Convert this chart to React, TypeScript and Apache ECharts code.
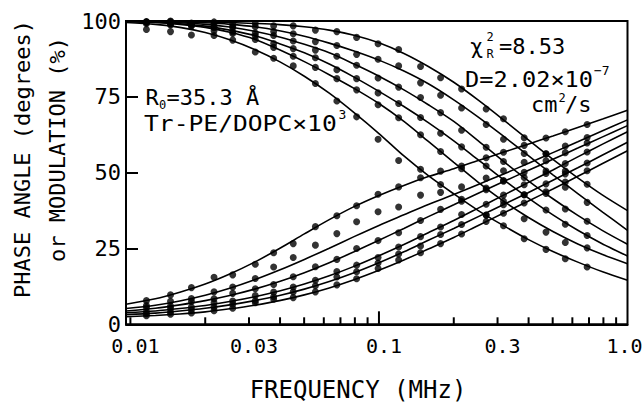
import React, { useEffect, useRef } from "react";
import * as echarts from "echarts";

// Frequencies (MHz) at which the fitted curves are sampled (tenth-decade steps)
const FIT_FREQS = [
  0.0096, 0.0126, 0.0158, 0.02, 0.0251, 0.0316, 0.0398, 0.0501, 0.0631, 0.0794, 0.1,
  0.126, 0.158, 0.2, 0.251, 0.316, 0.398, 0.501, 0.631, 0.794, 1.0,
];

// Fitted modulation curves (%)
const MOD_FIT_1 = [100, 100, 99.9, 99.8, 99.5, 99.2, 98.8, 98.1, 97, 95.3, 92.8, 89.3, 85, 79.8, 73.9, 67.5, 60.9, 54.4, 48.3, 42.6, 37.5];
const MOD_FIT_2 = [100, 99.9, 99.7, 99.4, 98.9, 98.1, 96.8, 95, 92.7, 90.1, 87.1, 83.5, 79.3, 74, 68.3, 62.1, 55.7, 49.3, 43.1, 37, 31];
const MOD_FIT_3 = [99.9, 99.7, 99.4, 98.9, 98, 96.6, 94.7, 92.3, 89.5, 85.8, 81.8, 77.3, 72.4, 66.9, 60.5, 53.8, 47.4, 41.4, 35.9, 30.9, 26.4];
const MOD_FIT_4 = [99.9, 99.6, 99.1, 98.3, 97, 95.2, 92.5, 89.5, 85.8, 81.5, 76.8, 71.8, 66.5, 60.5, 54.2, 47.8, 41.7, 36.1, 31, 26.5, 22.5];
const MOD_FIT_5 = [99.8, 99.5, 98.9, 97.9, 96.3, 94, 90.5, 86.6, 82.3, 77.8, 72.8, 66.9, 60.3, 53.4, 46.8, 40.7, 35.3, 30.6, 26.5, 23, 20];
const MOD_FIT_6 = [99.5, 98.9, 97.9, 96.2, 93.8, 90.6, 86.6, 81.8, 76.2, 69.8, 62.9, 55.5, 49, 43, 37.5, 32.6, 28, 24, 20.5, 17.3, 14.5];

// Fitted phase-angle curves (degrees)
const PHASE_FIT_1 = [6.6, 8.4, 10.6, 13.3, 16.6, 20.5, 25, 29.8, 34.5, 38.8, 42.5, 45.8, 48.7, 51.3, 54, 56.7, 59.4, 62.1, 64.9, 67.7, 70.6];
const PHASE_FIT_2 = [5.2, 6.3, 7.7, 9.6, 11.9, 14.7, 17.9, 21.4, 25.1, 28.9, 32.6, 36.1, 39.5, 42.8, 46.1, 49.5, 53, 56.6, 60.2, 63.8, 67.4];
const PHASE_FIT_3 = [4.4, 5.3, 6.4, 7.8, 9.5, 11.6, 14.1, 17, 20.3, 23.9, 27.7, 31.6, 35.5, 39.4, 43.2, 47, 50.7, 54.4, 58.1, 61.8, 65.5];
const PHASE_FIT_4 = [3.8, 4.4, 5.2, 6.2, 7.5, 9.1, 11, 13.3, 16, 19.1, 22.6, 26.3, 30.2, 34.2, 38.3, 42.5, 46.7, 50.9, 55.2, 59.4, 63.5];
const PHASE_FIT_5 = [3.2, 3.7, 4.4, 5.3, 6.4, 7.8, 9.5, 11.6, 14.1, 17, 20.3, 23.9, 27.7, 31.6, 35.5, 39.4, 43.4, 47.5, 51.6, 55.8, 60];
const PHASE_FIT_6 = [2.5, 2.9, 3.4, 4.1, 5.1, 6.3, 7.8, 9.7, 12, 14.7, 17.8, 21.2, 24.8, 28.6, 32.6, 36.6, 40.6, 44.6, 48.8, 53, 57.2];

// Measurement frequencies (MHz)
const DATA_FREQS = [
  0.0116, 0.0145, 0.0176, 0.0217, 0.0258, 0.0318, 0.0377, 0.0452, 0.0555, 0.0677, 0.0813,
  0.0992, 0.12, 0.147, 0.177, 0.215, 0.27, 0.317, 0.384, 0.47, 0.562, 0.688,
];

// Measured modulation (%)
const MOD_DATA_1 = [99.6, 100, 99.3, 99.7, 99.1, 99.2, 98.4, 98.4, 97, 96.5, 94.6, 92.5, 90.6, 85, 81.3, 77.6, 71, 67.8, 61.5, 56.2, 50.5, 46.2];
const MOD_DATA_2 = [99.1, 99.8, 98.9, 99.2, 98.2, 98.1, 96.5, 95.8, 93.2, 91.9, 89, 87.4, 85.2, 79.6, 75.5, 71.3, 65.9, 61, 56.3, 50.5, 45.2, 40.2];
const MOD_DATA_3 = [99.8, 98.9, 99.2, 98.1, 97.8, 96, 95.2, 93.4, 90.4, 88.4, 85.4, 81.2, 78.2, 74.8, 69.8, 64, 58.4, 53.7, 48.4, 43.1, 38, 34];
const MOD_DATA_4 = [99.7, 99.3, 98.4, 97.8, 96.4, 95.1, 92.6, 90.9, 87.9, 83.9, 81, 76.3, 72.8, 68.2, 63, 58.5, 52.2, 47.2, 42.7, 37.7, 33, 29.3];
const MOD_DATA_5 = [99.6, 98.7, 98.4, 96.8, 95.9, 93.9, 91.3, 88.4, 84.7, 81, 77.3, 72.4, 68.1, 62.5, 57, 51.3, 44.9, 40.6, 34.8, 30.4, 27, 25.2];
const MOD_DATA_6 = [97.2, 96.5, 95.4, 95.2, 93.7, 89.8, 87.7, 85.2, 79.4, 73.6, 68.4, 61, 54, 51.1, 46.1, 41.2, 36, 32.5, 28.2, 24.7, 21.6, 18.9];

// Measured phase angle (degrees)
const PHASE_DATA_1 = [7.8, 9.7, 12.1, 15.5, 16.3, 19.8, 23.6, 26.6, 32.2, 35.8, 39.1, 42.9, 45.3, 48.3, 50.5, 52.2, 54.9, 56.7, 59, 61.4, 63.5, 65.9];
const PHASE_DATA_2 = [6.2, 7.6, 8.5, 10.7, 12.3, 15.1, 18.9, 22, 26.1, 29.9, 33.8, 37.1, 38.7, 42.6, 43.5, 45.3, 48.2, 50.6, 53.4, 56.2, 58.8, 61.6];
const PHASE_DATA_3 = [5.5, 6, 7.5, 8.4, 10.2, 11.7, 13.1, 15.7, 19, 21.4, 25, 27.6, 30.2, 34.2, 37.9, 40.6, 44.4, 47.4, 50.1, 53.9, 56.6, 59.8];
const PHASE_DATA_4 = [4.2, 5.3, 5.7, 7.1, 7.7, 9.5, 10.6, 12.3, 14.5, 17.4, 19.5, 22, 25.5, 28.9, 32.1, 36.2, 39.6, 42.6, 46, 49.7, 53, 56.8];
const PHASE_DATA_5 = [3.5, 4.1, 4.8, 5.7, 6.6, 7.8, 9.1, 10.7, 12.7, 15.6, 17.3, 20.2, 23.2, 25.8, 29.6, 32.9, 36, 39.4, 42.7, 46.3, 49.6, 53.2];
const PHASE_DATA_6 = [2.8, 3.3, 3.7, 4.5, 5.3, 7.1, 8.3, 8.8, 10.7, 13, 15, 18.4, 21.2, 23.6, 26.6, 29.8, 33.9, 36.6, 40, 43.7, 46.9, 50.6];

// Axis ticks and labels
const X_MIN = 0.0096;
const X_MAX = 1.0;
const X_MINOR_TICKS = [0.01, 0.02, 0.03, 0.04, 0.05, 0.06, 0.07, 0.08, 0.09, 0.2, 0.3, 0.4, 0.5, 0.6, 0.7, 0.8, 0.9];
const X_MAJOR_TICKS = [0.1];
const X_LABEL_VALUES = [0.01, 0.03, 0.1, 0.3, 1.0];
const X_LABEL_TEXTS = ["0.01", "0.03", "0.1", "0.3", "1.0"];
const Y_MIN = 0;
const Y_MAX = 100;
const Y_STEP = 25;

const FITS = [
  MOD_FIT_1, MOD_FIT_2, MOD_FIT_3, MOD_FIT_4, MOD_FIT_5, MOD_FIT_6,
  PHASE_FIT_1, PHASE_FIT_2, PHASE_FIT_3, PHASE_FIT_4, PHASE_FIT_5, PHASE_FIT_6,
];
const MEASURED = [
  MOD_DATA_1, MOD_DATA_2, MOD_DATA_3, MOD_DATA_4, MOD_DATA_5, MOD_DATA_6,
  PHASE_DATA_1, PHASE_DATA_2, PHASE_DATA_3, PHASE_DATA_4, PHASE_DATA_5, PHASE_DATA_6,
];

const MONO = '"DejaVu Sans Mono", monospace';
const INK = "#000";

const zip = (xs: number[], ys: number[]) => xs.map((x, i) => [x, ys[i]]);

function txt(text: string, x: number, y: number, size: number, extra: any = {}) {
  const { align = "left", scaleX = 1, scaleY = 1, rotation = 0 } = extra;
  return {
    type: "text",
    x,
    y,
    scaleX,
    scaleY,
    rotation,
    silent: true,
    style: {
      text,
      font: `${size}px ${MONO}`,
      fill: INK,
      align,
      textAlign: align,
      verticalAlign: "middle",
      textVerticalAlign: "middle",
      lineHeight: Math.round(size * 0.8),
    },
  };
}

function buildOption() {
  const fitSeries = FITS.map((vals) => ({
    type: "line",
    data: zip(FIT_FREQS, vals),
    smooth: 0.3,
    showSymbol: false,
    symbol: "none",
    silent: true,
    lineStyle: { color: INK, width: 1.6 },
    z: 3,
  }));

  const dataSeries = MEASURED.map((vals) => ({
    type: "scatter",
    data: zip(DATA_FREQS, vals),
    symbol: "circle",
    symbolSize: 7,
    silent: true,
    itemStyle: { color: INK },
    z: 4,
  }));

  const tickSeries = (freqs: number[], len: number) => ({
    type: "custom",
    silent: true,
    clip: false,
    data: freqs.map((f) => [f, Y_MIN]),
    renderItem: (_params: any, api: any) => {
      const p = api.coord([api.value(0), Y_MIN]);
      return {
        type: "line",
        shape: { x1: p[0], y1: p[1], x2: p[0], y2: p[1] - len },
        style: { stroke: INK, lineWidth: 2 },
      };
    },
    z: 5,
  });

  const labelSeries = {
    type: "custom",
    silent: true,
    clip: false,
    data: X_LABEL_VALUES.map((f) => [f, Y_MIN]),
    renderItem: (params: any, api: any) => {
      const p = api.coord([api.value(0), Y_MIN]);
      const i = params.dataIndex;
      const dx = i === X_LABEL_VALUES.length - 1 ? -3 : 5;
      return {
        type: "text",
        x: p[0] + dx,
        y: p[1] + 22,
        style: {
          text: X_LABEL_TEXTS[i],
          font: `20px ${MONO}`,
          fill: INK,
          align: "center",
          textAlign: "center",
          verticalAlign: "middle",
          textVerticalAlign: "middle",
          lineHeight: 16,
        },
      };
    },
    z: 5,
  };

  return {
    animation: false,
    backgroundColor: "#fff",
    grid: {
      left: 126,
      top: 21,
      width: 501.5,
      height: 303.3,
      show: true,
      borderColor: INK,
      borderWidth: 2,
      backgroundColor: "transparent",
    },
    xAxis: {
      type: "log",
      logBase: 10,
      min: X_MIN,
      max: X_MAX,
      axisLine: { show: true, lineStyle: { color: INK, width: 2 } },
      axisTick: { show: false },
      axisLabel: { show: false },
      splitLine: { show: false },
      minorTick: { show: false },
    },
    yAxis: {
      type: "value",
      min: Y_MIN,
      max: Y_MAX,
      interval: Y_STEP,
      axisLine: { show: true, lineStyle: { color: INK, width: 2 } },
      axisTick: { show: true, inside: true, length: 12, lineStyle: { color: INK, width: 2 } },
      axisLabel: { color: INK, fontFamily: MONO, fontSize: 22, margin: 5, lineHeight: 16 },
      splitLine: { show: false },
    },
    graphic: [
      // axis titles
      txt("PHASE ANGLE (degrees)", 22.5, 159, 22, { align: "center", rotation: Math.PI / 2 }),
      txt("or MODULATION (%)", 57.5, 149.5, 22, { align: "center", rotation: Math.PI / 2 }),
      txt("FREQUENCY (MHz)", 358, 390, 24, { align: "center" }),
      // Förster distance and acceptor density
      txt("R", 145.5, 97, 22),
      txt("0", 159, 104.5, 12),
      txt("=35.3 Å", 166.5, 97, 22),
      txt("Tr-PE/DOPC×10", 144, 123, 22, { scaleX: 1.12 }),
      txt("3", 338.5, 114.5, 13),
      // goodness of fit and diffusion coefficient
      txt("χ", 470, 46, 22),
      txt("2", 486.5, 37, 12),
      txt("R", 486.5, 53.5, 12),
      txt("=8.53", 499, 46, 22),
      txt("D=2.02×10", 465, 79, 22, { scaleX: 1.075 }),
      txt("−7", 594, 70, 13),
      txt("cm", 531, 104, 22),
      txt("2", 558.5, 98, 12),
      txt("/s", 565, 104, 22),
    ],
    series: [
      ...fitSeries,
      ...dataSeries,
      tickSeries(X_MINOR_TICKS, 7),
      tickSeries(X_MAJOR_TICKS, 13),
      labelSeries,
    ],
  };
}

export default function App() {
  const ref = useRef<HTMLDivElement>(null);
  useEffect(() => {
    if (!ref.current) return;
    const chart = echarts.init(ref.current, null, { renderer: "svg" });
    chart.setOption(buildOption() as any);
    return () => chart.dispose();
  }, []);
  return (
    <div
      ref={ref}
      style={{ position: "fixed", left: 0, top: 0, width: 644, height: 403, background: "#fff" }}
    />
  );
}
